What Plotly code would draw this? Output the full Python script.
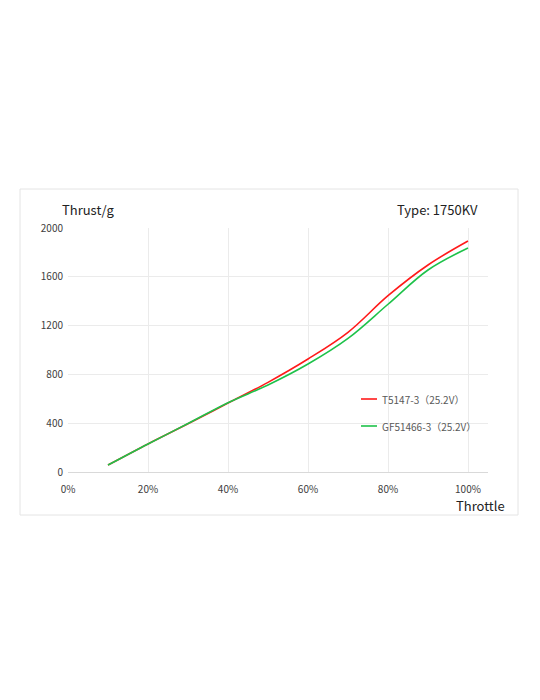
import plotly.graph_objects as go

throttle = [0.1, 0.2, 0.3, 0.4, 0.5, 0.6, 0.7, 0.8, 0.9, 1.0]
t5147 = [57, 230, 395, 565, 735, 926, 1145, 1445, 1697, 1893]
gf51466 = [57, 230, 397, 568, 713, 885, 1095, 1375, 1656, 1836]
names = ["T5147-3（25.2V）", "GF51466-3（25.2V）"]
colors = ["#ff1a1a", "#1ec24a"]
series = [t5147, gf51466]

fig = go.Figure()
for nm, col, ys in zip(names, colors, series):
    fig.add_trace(go.Scatter(x=throttle, y=ys, mode="lines", name=nm,
                             line=dict(color=col, width=1.6, shape="spline", smoothing=1.0),
                             showlegend=False))

W, H = 540, 700
L, R, T, B = 68, 488, 228, 472
def px(x):
    return (x - L) / (R - L)
def py(y):
    return (B - y) / (B - T)

shapes = [dict(type="rect", xref="paper", yref="paper",
               x0=px(20), x1=px(518), y0=py(515), y1=py(189),
               line=dict(color="#e4e4e4", width=1), layer="below")]
annotations = []
for i, (nm, col) in enumerate(zip(names, colors)):
    yy = 399 + 27 * i
    shapes.append(dict(type="line", xref="paper", yref="paper",
                       x0=px(361), x1=px(377), y0=py(yy), y1=py(yy),
                       line=dict(color=col, width=1.6)))
    annotations.append(dict(xref="paper", yref="paper", x=px(380), y=py(yy),
                            text=nm, showarrow=False, xanchor="left", yanchor="middle",
                            font=dict(size=10, color="#595959", family="Noto Sans CJK SC")))

annotations += [
    dict(xref="paper", yref="paper", x=px(60), y=py(209), text="Thrust/g", showarrow=False,
         xanchor="left", yanchor="middle", font=dict(size=13, color="#222", family="Noto Sans CJK SC")),
    dict(xref="paper", yref="paper", x=px(480), y=py(209), text="Type: 1750KV", showarrow=False,
         xanchor="right", yanchor="middle", font=dict(size=13, color="#222", family="Noto Sans CJK SC")),
    dict(xref="paper", yref="paper", x=px(507), y=py(505), text="Throttle", showarrow=False,
         xanchor="right", yanchor="middle", font=dict(size=13, color="#222", family="Noto Sans CJK SC")),
]

fig.update_layout(
    width=W, height=H, margin=dict(l=L, r=W - R, t=T, b=H - B),
    paper_bgcolor="white", plot_bgcolor="white",
    shapes=shapes, annotations=annotations, showlegend=False,
    xaxis=dict(range=[0, 1.05], tickvals=[0, 0.2, 0.4, 0.6, 0.8, 1.0], tickformat=".0%",
               showgrid=True, gridcolor="#ebebeb", gridwidth=1, zeroline=False,
               showline=True, linecolor="#d9d9d9", linewidth=1, ticks="",
               ticklabelstandoff=8,
               tickfont=dict(size=10, color="#404040", family="Noto Sans CJK SC")),
    yaxis=dict(range=[0, 2000], dtick=400, showgrid=True, gridcolor="#ebebeb", gridwidth=1,
               zeroline=False, showline=False, ticks="", ticklabelstandoff=4,
               tickfont=dict(size=10, color="#404040", family="Noto Sans CJK SC")),
)

fig.write_html("out.html")
